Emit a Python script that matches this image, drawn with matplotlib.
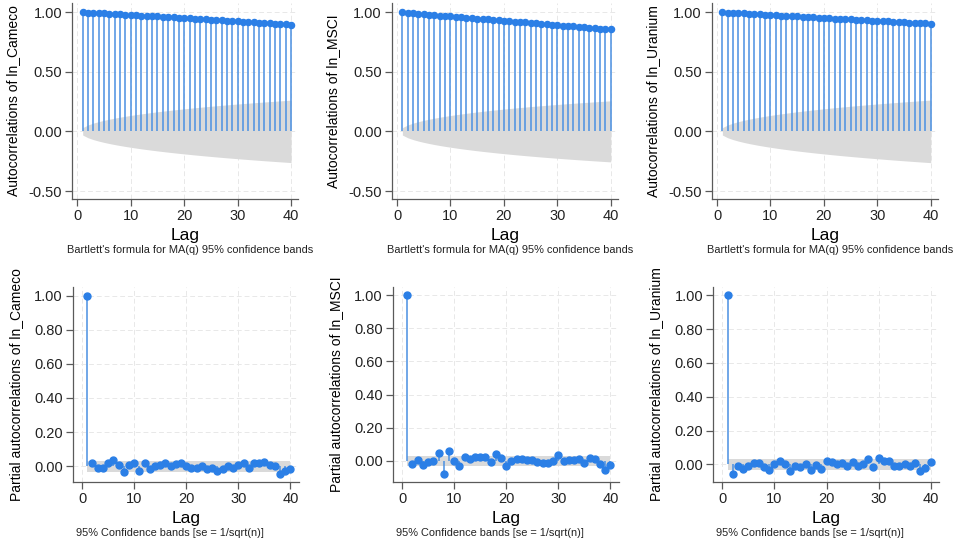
import numpy as np
import matplotlib
matplotlib.use("Agg")
import matplotlib.pyplot as plt

plt.rcParams['font.family'] = ['Liberation Sans', 'DejaVu Sans']

series = ["ln_Cameco", "ln_MSCI", "ln_Uranium"]
lags = np.arange(1, 41)
n_obs = 4000

acf_cameco = [0.998, 0.995, 0.993, 0.990, 0.988, 0.985, 0.983, 0.980, 0.978, 0.975,
              0.973, 0.970, 0.968, 0.965, 0.963, 0.960, 0.957, 0.955, 0.952, 0.949,
              0.947, 0.944, 0.941, 0.938, 0.936, 0.933, 0.930, 0.927, 0.925, 0.922,
              0.919, 0.916, 0.913, 0.911, 0.908, 0.905, 0.902, 0.899, 0.896, 0.893]
acf_msci = [0.997, 0.993, 0.990, 0.986, 0.982, 0.979, 0.975, 0.971, 0.968, 0.964,
            0.960, 0.957, 0.953, 0.949, 0.946, 0.942, 0.938, 0.935, 0.931, 0.927,
            0.924, 0.920, 0.916, 0.913, 0.909, 0.905, 0.902, 0.898, 0.894, 0.891,
            0.887, 0.883, 0.880, 0.876, 0.872, 0.869, 0.865, 0.861, 0.858, 0.854]
acf_uranium = [0.998, 0.996, 0.993, 0.991, 0.988, 0.986, 0.983, 0.981, 0.978, 0.976,
               0.973, 0.971, 0.968, 0.966, 0.964, 0.961, 0.959, 0.956, 0.954, 0.951,
               0.949, 0.946, 0.944, 0.941, 0.939, 0.937, 0.934, 0.932, 0.929, 0.927,
               0.924, 0.922, 0.919, 0.917, 0.914, 0.912, 0.910, 0.907, 0.905, 0.902]

pacf_cameco = [1.000, 0.020, -0.010, -0.010, 0.020, 0.035, 0.010, -0.035, 0.010, 0.020,
               -0.030, 0.020, -0.015, 0.000, 0.008, 0.020, 0.000, 0.015, 0.018, 0.003,
               -0.010, -0.008, 0.002, -0.018, -0.010, -0.030, -0.018, 0.000, -0.012, 0.010,
               0.020, -0.010, 0.022, 0.020, 0.025, 0.010, 0.000, -0.045, -0.025, -0.018]
pacf_msci = [1.000, -0.022, 0.005, -0.025, -0.010, -0.003, 0.045, -0.080, 0.060, -0.003,
             -0.030, 0.020, 0.010, 0.020, 0.020, 0.020, -0.010, 0.043, 0.015, -0.035,
             -0.002, 0.008, 0.010, 0.003, 0.002, -0.008, -0.012, -0.012, 0.000, 0.032,
             -0.002, 0.002, 0.004, 0.012, -0.012, 0.018, 0.008, -0.022, -0.057, -0.025]
pacf_uranium = [1.000, -0.058, -0.008, -0.030, -0.008, 0.010, 0.010, -0.018, -0.035, 0.000,
                0.022, 0.000, -0.042, -0.008, -0.015, 0.002, -0.034, -0.006, -0.030, 0.022,
                0.012, 0.004, 0.006, -0.008, 0.012, -0.012, 0.004, 0.030, -0.014, 0.035,
                0.018, 0.022, -0.008, -0.008, 0.004, -0.010, 0.006, -0.040, -0.024, 0.016]

acf_values = [acf_cameco, acf_msci, acf_uranium]
pacf_values = [pacf_cameco, pacf_msci, pacf_uranium]
pacf_ymin = [-0.092, -0.129, -0.105]

top_ticks = [-0.50, 0.00, 0.50, 1.00]
bottom_ticks = [0.00, 0.20, 0.40, 0.60, 0.80, 1.00]
x_ticks = [0, 10, 20, 30, 40]

stem_color = "#4a90e2"
marker_color = "#2b7fe6"
band_color = "#dadada"
axis_color = "#5a5a5a"
grid_color = "#e8e8e8"

W, H = 959, 548
fig = plt.figure(figsize=(W / 100, H / 100), dpi=100)

top_left_px = [72, 391.7, 711.7]
bottom_left_px = [72.7, 392.7, 713.0]
width_px = 226
top_h, bot_h = 196, 195


def style_axes(ax, yticks):
    for side in ("top", "right"):
        ax.spines[side].set_visible(False)
    for side in ("left", "bottom"):
        ax.spines[side].set_color(axis_color)
        ax.spines[side].set_linewidth(0.9)
    ax.tick_params(direction="out", length=5, width=0.9, color=axis_color,
                   labelsize=10.5, labelcolor="#222222", pad=2)
    ax.set_xticks(x_ticks)
    ax.set_yticks(yticks)
    ax.set_yticklabels([f"{t:.2f}" for t in yticks])
    ax.grid(True, color=grid_color, linewidth=0.7, linestyle=(0, (5, 3)))
    ax.set_axisbelow(True)


# Autocorrelation panels with Bartlett confidence bands
for i, name in enumerate(series):
    r = np.asarray(acf_values[i])
    prev_sq = np.concatenate([[0.0], np.cumsum(r ** 2)[:-1]])
    band = 1.96 * np.sqrt((1 + 2 * prev_sq) / n_obs)

    ax = fig.add_axes([top_left_px[i] / W, 1 - 199 / H, width_px / W, top_h / H])
    style_axes(ax, top_ticks)
    ax.fill_between(lags, -band, band, color=band_color, linewidth=0, zorder=1)
    ax.vlines(lags, 0, r, color=stem_color, linewidth=1.1, zorder=2)
    ax.plot(lags, r, "o", color=marker_color, markersize=4.4, zorder=3)
    ax.set_xlim(-1.0, 41.3)
    ax.set_ylim(-0.567, 1.076)
    ax.set_ylabel(f"Autocorrelations of {name}", fontsize=10, labelpad=6)
    ax.set_xlabel("Lag", fontsize=12.5, labelpad=4)
    ax.text(118 / width_px, -(250 - 199) / top_h,
            "Bartlett's formula for MA(q) 95% confidence bands",
            transform=ax.transAxes, ha="center", va="center", fontsize=7.9,
            color="#222222")

# Partial autocorrelation panels with 1/sqrt(n) bands
se_pacf = 1.96 / np.sqrt(n_obs)
for i, name in enumerate(series):
    p = np.asarray(pacf_values[i])
    ax = fig.add_axes([bottom_left_px[i] / W, 1 - 482 / H, width_px / W, bot_h / H])
    style_axes(ax, bottom_ticks)
    ax.fill_between(lags, -se_pacf, se_pacf, color=band_color, linewidth=0, zorder=1)
    ax.vlines(lags, 0, p, color=stem_color, linewidth=1.1, zorder=2)
    ax.plot(lags, p, "o", color=marker_color, markersize=5, zorder=3)
    ax.set_xlim(-1.8, 41.6)
    ax.set_ylim(pacf_ymin[i], 1.05)
    ax.set_ylabel(f"Partial autocorrelations of {name}", fontsize=10, labelpad=8)
    ax.set_xlabel("Lag", fontsize=12.5, labelpad=4)
    ax.text(97 / width_px, -(533 - 482) / bot_h,
            "95% Confidence bands [se = 1/sqrt(n)]",
            transform=ax.transAxes, ha="center", va="center", fontsize=7.9,
            color="#222222")

fig.savefig("out.png", dpi=100, facecolor="white")
